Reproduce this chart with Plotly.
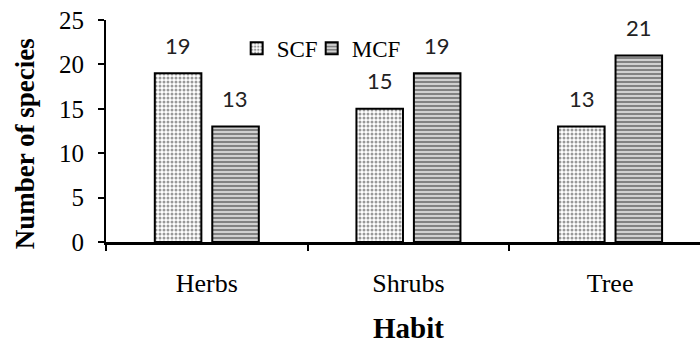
import plotly.graph_objects as go

categories = ["Herbs", "Shrubs", "Tree"]
scf_values = [19, 15, 13]
mcf_values = [13, 19, 21]
y_ticks = [0, 5, 10, 15, 20, 25]

SERIF = "Liberation Serif"
SANS = "Lato"

fig = go.Figure()
fig.add_trace(go.Bar(
    name="SCF", x=categories, y=scf_values, legend="legend",
    marker=dict(color="white", line=dict(color="black", width=2),
                pattern=dict(shape=".", fgcolor="#333", bgcolor="white", size=4, solidity=0.45)),
))
fig.add_trace(go.Bar(
    name="MCF", x=categories, y=mcf_values, legend="legend2",
    marker=dict(color="#999", line=dict(color="black", width=2),
                pattern=dict(shape="-", fgcolor="#222", bgcolor="#d0d0d0", size=4, solidity=0.45)),
))

annotations = []
for i, c in enumerate(categories):
    for vals, shift in ((scf_values, -28.5), (mcf_values, 28.5)):
        annotations.append(dict(x=c, y=vals[i], text=str(vals[i]), showarrow=False,
                                xshift=shift, yshift=28, yanchor="middle",
                                font=dict(family=SANS, size=22, color="#222")))
annotations.append(dict(xref="paper", yref="paper", x=0.51, y=-0.468, yanchor="bottom",
                        text="<b>Habit</b>", showarrow=False,
                        font=dict(family=SERIF, size=29, color="black")))
annotations.append(dict(xref="paper", yref="paper", x=-0.136, xanchor="center", y=0.441, yanchor="middle",
                        text="<b>Number of species</b>", textangle=-90, showarrow=False,
                        font=dict(family=SERIF, size=27, color="black")))

legend_common = dict(orientation="h", xanchor="left", yanchor="middle",
                     font=dict(family=SERIF, size=23, color="black"),
                     bgcolor="rgba(0,0,0,0)", itemwidth=30)

fig.update_layout(
    width=700, height=345,
    margin=dict(l=106, r=0, t=20, b=103),
    paper_bgcolor="white", plot_bgcolor="white",
    barmode="group", bargap=0.43, bargroupgap=0.19,
    hovermode=False,
    showlegend=True,
    legend=dict(x=0.22, y=0.873, **legend_common),
    legend2=dict(x=0.3463, y=0.873, **legend_common),
    annotations=annotations,
    xaxis=dict(range=[-0.5, 2.446], showline=True, linecolor="black", linewidth=2.5,
               ticks="outside", tickson="boundaries", ticklen=6, tickcolor="black", tickwidth=1.5,
               tickfont=dict(family=SERIF, size=26, color="black"), ticklabelstandoff=16,
               showgrid=False, zeroline=False),
    yaxis=dict(range=[0, 25], tickvals=y_ticks, showline=True, linecolor="black", linewidth=2,
               ticks="outside", ticklen=6, tickcolor="black", tickwidth=1.5,
               tickfont=dict(family=SERIF, size=25, color="black"), ticklabelstandoff=9,
               showgrid=False, zeroline=False),
)

fig.write_html("out.html", config={"displayModeBar": False},
               post_script="document.body.style.margin='0px';")
